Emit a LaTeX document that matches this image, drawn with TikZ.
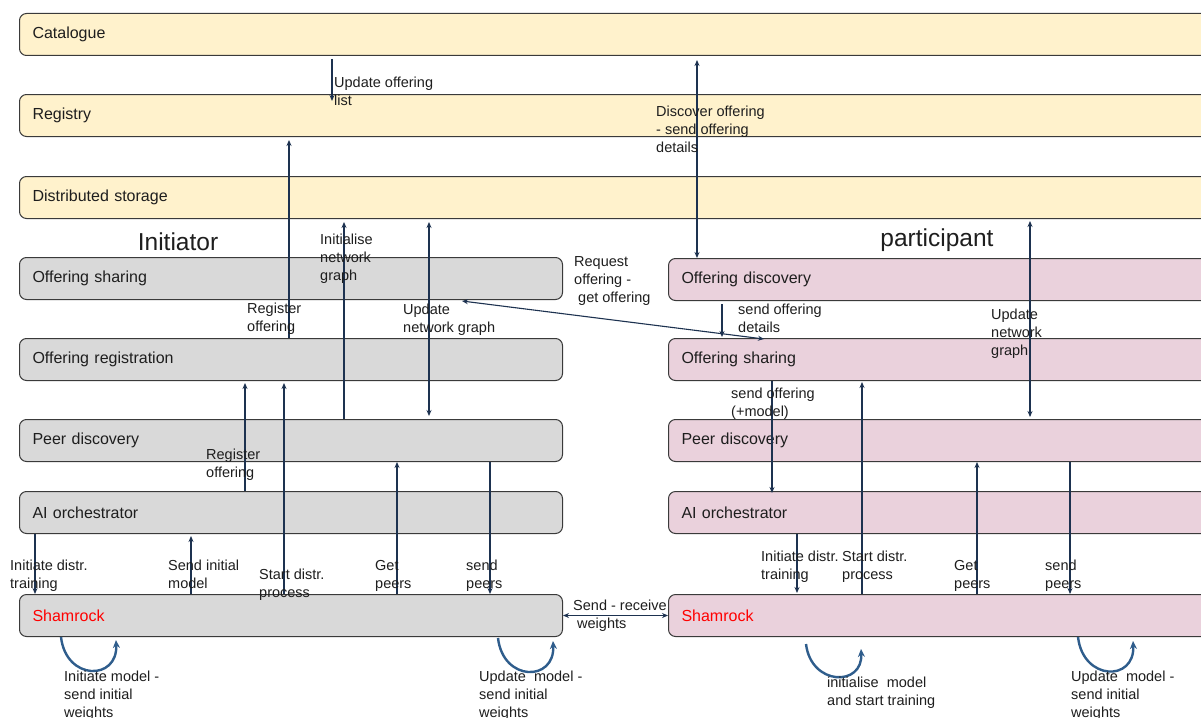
\documentclass[tikz,border=0pt]{standalone}
\usepackage{fontspec}
\setmainfont{Liberation Sans}
\usetikzlibrary{arrows.meta}

\definecolor{catfill}{HTML}{FFF2CC}
\definecolor{grayfill}{HTML}{D9D9D9}
\definecolor{pinkfill}{HTML}{EAD1DC}
\definecolor{edge}{HTML}{3A3A3A}
\definecolor{flow}{HTML}{1D3250}
\definecolor{loopc}{HTML}{2F5D8C}
\definecolor{ink}{HTML}{1E1E1E}

\begin{document}
\begin{tikzpicture}[x=1pt,y=-1pt,
  box/.style={draw=edge, line width=1pt, rounded corners=7pt, anchor=north west,
    minimum height=42pt, inner xsep=13pt, inner ysep=0pt, align=left, text=ink,
    font=\fontsize{16}{19}\selectfont},
  wide/.style={box, text width=1174pt},
  half/.style={box, text width=517pt},
  lbl/.style={anchor=north west, inner sep=0pt, align=left, text=ink,
    font=\fontsize{14.5}{18}\selectfont},
  ttl/.style={text=ink, inner sep=0pt, font=\fontsize{24.5}{28}\selectfont},
  flowarr/.style={draw=flow, line width=1.1pt, -{Stealth[length=6pt,width=5pt]}},
  flowboth/.style={draw=flow, line width=1.1pt,
    {Stealth[length=6pt,width=5pt]}-{Stealth[length=6pt,width=5pt]}},
  loopflow/.style={draw=loopc, line width=2.4pt, -{Stealth[length=8pt,width=7pt]}},
]
\useasboundingbox (0,0) rectangle (1201,717);
\clip (0,0) rectangle (1201,717);
\fill[white] (0,0) rectangle (1201,717);

% shared services
\node[wide, fill=catfill] (cat) at (19,13)  {Catalogue};
\node[wide, fill=catfill] (reg) at (19,94)  {Registry};
\node[wide, fill=catfill] (ds)  at (19,176) {Distributed storage};

% initiator stack
\node[half, fill=grayfill] (Lsh)   at (19,257) {Offering sharing};
\node[half, fill=grayfill] (Lreg)  at (19,338) {Offering registration};
\node[half, fill=grayfill] (Lpd)   at (19,419) {Peer discovery};
\node[half, fill=grayfill] (Lai)   at (19,491) {AI orchestrator};
\node[half, fill=grayfill] (Lsham) at (19,594) {\textcolor{red}{Shamrock}};

% participant stack
\node[wide, fill=pinkfill] (Rod)   at (668,258) {Offering discovery};
\node[wide, fill=pinkfill] (Rsh)   at (668,338) {Offering sharing};
\node[wide, fill=pinkfill] (Rpd)   at (668,419) {Peer discovery};
\node[wide, fill=pinkfill] (Rai)   at (668,491) {AI orchestrator};
\node[wide, fill=pinkfill] (Rsham) at (668,594) {\textcolor{red}{Shamrock}};

% column titles
\node[ttl] (ttlL) at (178,242) {Initiator};
\node[ttl] (ttlR) at (937,240) {participant};

% connectors between services
\draw[flowarr]  ([xshift=313pt,yshift=-3pt]cat.south west) -- ([xshift=313pt,yshift=-7pt]reg.north west);
\draw[flowarr]  ([xshift=270pt]Lreg.north west) -- ([xshift=270pt,yshift=-3pt]reg.south west);
\draw[flowarr]  ([xshift=325pt]Lpd.north west) -- ([xshift=325pt,yshift=-3pt]ds.south west);
\draw[flowboth] ([xshift=410pt,yshift=-3pt]ds.south west) -- ([xshift=410pt,yshift=3pt]Lpd.north west);
\draw[flowboth] ([xshift=678pt,yshift=-4pt]cat.south west) -- ([xshift=29pt]Rod.north west);
\draw[flowboth] ([xshift=443pt,yshift=-1pt]Lsh.south west) -- ([xshift=96pt,yshift=-1pt]Rsh.north west);
\draw[flowarr]  ([xshift=54pt,yshift=-3pt]Rod.south west) -- ([xshift=54pt,yshift=1pt]Rsh.north west);
\draw[flowboth] ([xshift=1011pt,yshift=-2pt]ds.south west) -- ([xshift=362pt,yshift=2pt]Rpd.north west);
\draw[flowarr]  ([xshift=104pt]Rsh.south west) -- ([xshift=104pt,yshift=-2pt]Rai.north west);
\draw[flowarr]  ([xshift=194pt]Rsham.north west) -- ([xshift=194pt,yshift=-1pt]Rsh.south west);
\draw[flowarr]  ([xshift=309pt]Rsham.north west) -- ([xshift=309pt]Rpd.south west);
\draw[flowarr]  ([xshift=402pt]Rpd.south west) -- ([xshift=402pt]Rsham.north west);
\draw[flowarr]  ([xshift=129pt]Rai.south west) -- ([xshift=129pt,yshift=1pt]Rsham.north west);
\draw[flowarr]  ([xshift=16pt]Lai.south west) -- ([xshift=16pt]Lsham.north west);
\draw[flowarr]  ([xshift=172pt]Lsham.north west) -- ([xshift=172pt,yshift=-2pt]Lai.south west);
\draw[flowarr]  ([xshift=226pt]Lai.north west) -- ([xshift=226pt,yshift=-2pt]Lreg.south west);
\draw[flowarr]  ([xshift=265pt]Lsham.north west) -- ([xshift=265pt,yshift=-2pt]Lreg.south west);
\draw[flowarr]  ([xshift=378pt]Lsham.north west) -- ([xshift=378pt]Lpd.south west);
\draw[flowarr]  ([xshift=471pt]Lpd.south west) -- ([xshift=471pt]Lsham.north west);
\draw[flowboth] (Lsham.east) -- (Rsham.west);

% self loops below Shamrock
\draw[loopflow] ([xshift=42pt]Lsham.south west) .. controls +(5,44) and +(2,41) .. ([xshift=97pt,yshift=-3pt]Lsham.south west);
\draw[loopflow] ([xshift=479pt,yshift=-1pt]Lsham.south west) .. controls +(5,44) and +(2,41) .. ([xshift=534pt,yshift=-4pt]Lsham.south west);
\draw[loopflow] ([xshift=138pt,yshift=-7pt]Rsham.south west) .. controls +(5,42) and +(2,38) .. ([xshift=193pt,yshift=-12pt]Rsham.south west);
\draw[loopflow] ([xshift=410pt]Rsham.south west) .. controls +(5,44) and +(2,41) .. ([xshift=465pt,yshift=-4pt]Rsham.south west);

% connector labels
\node[lbl] (t1)  at (334,77)   {Update offering\\list};
\node[lbl] (t2)  at (656,106)  {Discover offering\\- send offering\\details};
\node[lbl] (t3)  at (320,234)  {Initialise\\network\\graph};
\node[lbl] (t4)  at (247,303)  {Register\\offering};
\node[lbl] (t5)  at (403,304)  {Update\\network graph};
\node[lbl] (t6)  at (574,256)  {Request\\offering -\\\hspace{4pt}get offering};
\node[lbl] (t7)  at (738,304)  {send offering\\details};
\node[lbl] (t8)  at (991,309)  {Update\\network\\graph};
\node[lbl] (t9)  at (731,388)  {send offering\\(+model)};
\node[lbl] (t10) at (206,449)  {Register\\offering};
\node[lbl] (t11) at (10,560)   {Initiate distr.\\training};
\node[lbl] (t12) at (168,560)  {Send initial\\model};
\node[lbl] (t13) at (259,569)  {Start distr.\\process};
\node[lbl] (t14) at (375,560)  {Get\\peers};
\node[lbl] (t15) at (466,560)  {send\\peers};
\node[lbl] (t16) at (573,600)  {Send - receive\\\hspace{4pt}weights};
\node[lbl] (t17) at (761,551)  {Initiate distr.\\training};
\node[lbl] (t18) at (842,551)  {Start distr.\\process};
\node[lbl] (t19) at (954,560)  {Get\\peers};
\node[lbl] (t20) at (1045,560) {send\\peers};
\node[lbl] (t21) at (64,671)   {Initiate model -\\send initial\\weights};
\node[lbl] (t22) at (479,671)  {Update\ \ model -\\send initial\\weights};
\node[lbl] (t23) at (827,677)  {initialise\ \ model\\and start training};
\node[lbl] (t24) at (1071,671) {Update\ \ model -\\send initial\\weights};
\end{tikzpicture}
\end{document}
